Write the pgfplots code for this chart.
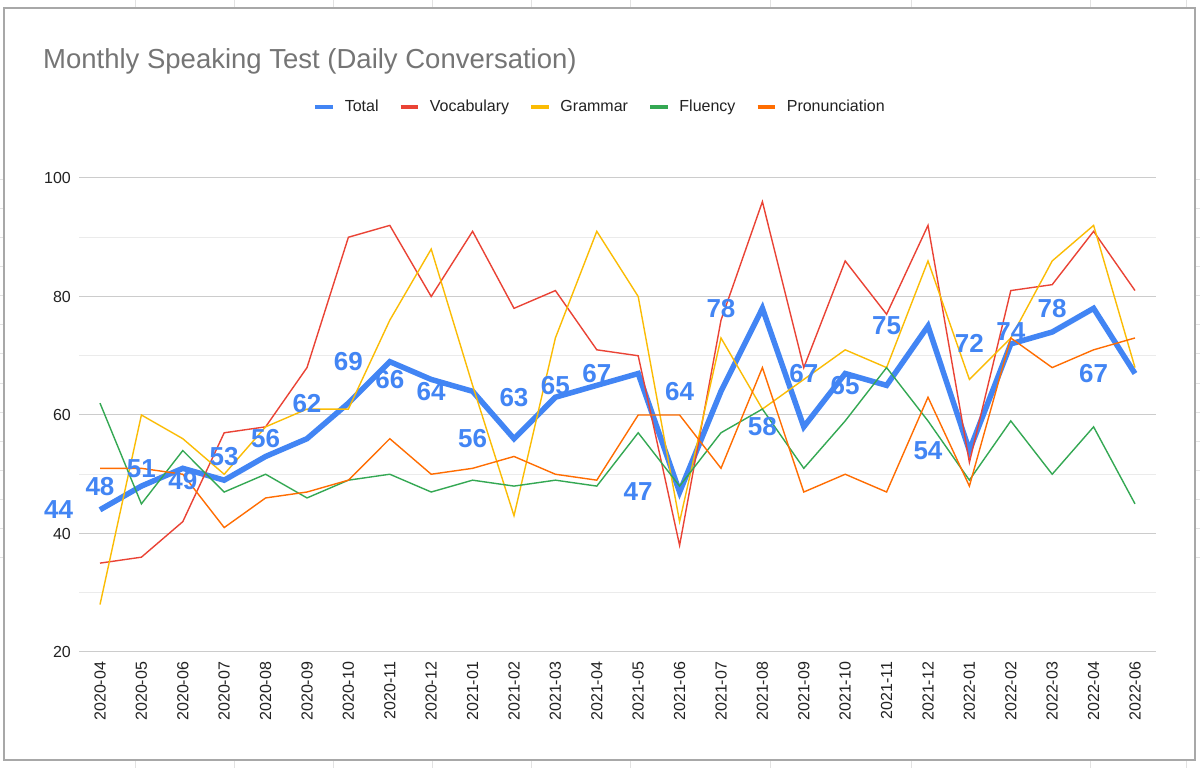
\documentclass[border=0pt]{standalone}
\usepackage{fontspec}
\setmainfont{Liberation Sans}
\usepackage{pgfplots}
\pgfplotsset{compat=1.18}
\usepackage{pgfplotstable}
\definecolor{cTotal}{HTML}{4285F4}
\definecolor{cVocab}{HTML}{EA4335}
\definecolor{cGram}{HTML}{FBBC04}
\definecolor{cFlu}{HTML}{34A853}
\definecolor{cPron}{HTML}{FF6D01}
\definecolor{gridmaj}{HTML}{CCCCCC}
\definecolor{gridmin}{HTML}{EBEBEB}
\definecolor{titlegray}{HTML}{757575}
\definecolor{ticktext}{HTML}{222222}
\definecolor{sheetline}{HTML}{E2E2E2}
\definecolor{frameline}{HTML}{A8A8A8}

\pgfplotstableread{
i month total vocab grammar fluency pron
0  2020-04 44 35 28 62 51
1  2020-05 48 36 60 45 51
2  2020-06 51 42 56 54 50
3  2020-07 49 57 50 47 41
4  2020-08 53 58 58 50 46
5  2020-09 56 68 61 46 47
6  2020-10 62 90 61 49 49
7  2020-11 69 92 76 50 56
8  2020-12 66 80 88 47 50
9  2021-01 64 91 65 49 51
10 2021-02 56 78 43 48 53
11 2021-03 63 81 73 49 50
12 2021-04 65 71 91 48 49
13 2021-05 67 70 80 57 60
14 2021-06 47 38 42 48 60
15 2021-07 64 76 73 57 51
16 2021-08 78 96 61 61 68
17 2021-09 58 68 66 51 47
18 2021-10 67 86 71 59 50
19 2021-11 65 77 68 68 47
20 2021-12 75 92 86 59 63
21 2022-01 54 52 66 49 48
22 2022-02 72 81 73 59 73
23 2022-03 74 82 86 50 68
24 2022-04 78 91 92 58 71
25 2022-06 67 81 68 45 73
}\datatable

\begin{document}
\begin{tikzpicture}
\begin{scope}[x=1bp,y=1bp]
\path[use as bounding box] (0,0) rectangle (1200,768);
\fill[white] (0,0) rectangle (1200,768);
\foreach \x in {135,234,333,432,531,630,770,911,1090,1186}{
  \draw[sheetline, line width=1] (\x,760) -- (\x,768);
  \draw[sheetline, line width=1] (\x,0) -- (\x,8);
}
\foreach \y in {210,239,268,297,326,355,384,414,443,472,501,530,559,588}{
  \draw[sheetline, line width=1] (0,\y) -- (4,\y);
  \draw[sheetline, line width=1] (1195,\y) -- (1200,\y);
}
\draw[frameline, line width=1.3] (4,8) rectangle (1195,760);
\node[anchor=base west, inner sep=0pt, text=titlegray,
      font=\fontsize{27.5bp}{32bp}\selectfont] at (43,699.5)
      {Monthly Speaking Test (Daily Conversation)};
\end{scope}

\begin{axis}[
  at={(79.3bp,116bp)}, anchor=south west,
  width=1076.4bp, height=474bp, scale only axis,
  xmin=-0.5, xmax=25.5, ymin=20, ymax=100,
  clip=false,
  axis line style={draw=none},
  tick style={draw=none},
  ytick={20,40,60,80,100},
  minor ytick={30,50,70,90},
  ymajorgrids, yminorgrids,
  major grid style={draw=gridmaj, line width=1bp},
  minor grid style={draw=gridmin, line width=1bp},
  xtick={0,...,25},
  xticklabels={2020-04,2020-05,2020-06,2020-07,2020-08,2020-09,2020-10,2020-11,2020-12,2021-01,2021-02,2021-03,2021-04,2021-05,2021-06,2021-07,2021-08,2021-09,2021-10,2021-11,2021-12,2022-01,2022-02,2022-03,2022-04,2022-06},
  xticklabel style={rotate=90, anchor=east, inner sep=0pt, text=ticktext,
      font=\fontsize{16bp}{19bp}\selectfont},
  yticklabel style={anchor=east, inner sep=0pt, text=ticktext,
      font=\fontsize{16bp}{19bp}\selectfont},
  xticklabel shift=9.7bp,
  yticklabel shift=8.3bp,
  /pgf/number format/assume math mode=true,
  legend columns=5,
  legend style={at={(0.4839,1.150)}, anchor=center, draw=none, fill=none,
      text=ticktext, font=\fontsize{16bp}{19bp}\selectfont,
      /tikz/every odd column/.append style={column sep=8bp},
      /tikz/every even column/.append style={column sep=18.3bp}},
  legend image code/.code={\draw[#1, line width=3.6bp, line cap=butt] (0bp,0bp) -- (17.5bp,0bp);},
]
\addplot[cTotal, line width=5.5bp] table[x=i, y=total] {\datatable};
\addlegendentry{Total}
\addplot[cVocab, line width=1.4bp] table[x=i, y=vocab] {\datatable};
\addlegendentry{Vocabulary}
\addplot[cGram, line width=1.4bp] table[x=i, y=grammar] {\datatable};
\addlegendentry{Grammar}
\addplot[cFlu, line width=1.4bp] table[x=i, y=fluency] {\datatable};
\addlegendentry{Fluency}
\addplot[cPron, line width=1.4bp] table[x=i, y=pron] {\datatable};
\addlegendentry{Pronunciation}
\addplot[draw=none, forget plot, point meta=explicit,
  nodes near coords={\pgfmathprintnumber{\pgfplotspointmeta}},
  nodes near coords align={anchor=center},
  every node near coord/.append style={anchor=center, inner sep=0pt, text=cTotal,
      font=\fontsize{26bp}{30bp}\bfseries\selectfont}]
  table[x expr=\thisrow{i}-1, y=total, meta=total] {\datatable};
\end{axis}
\end{tikzpicture}
\end{document}
